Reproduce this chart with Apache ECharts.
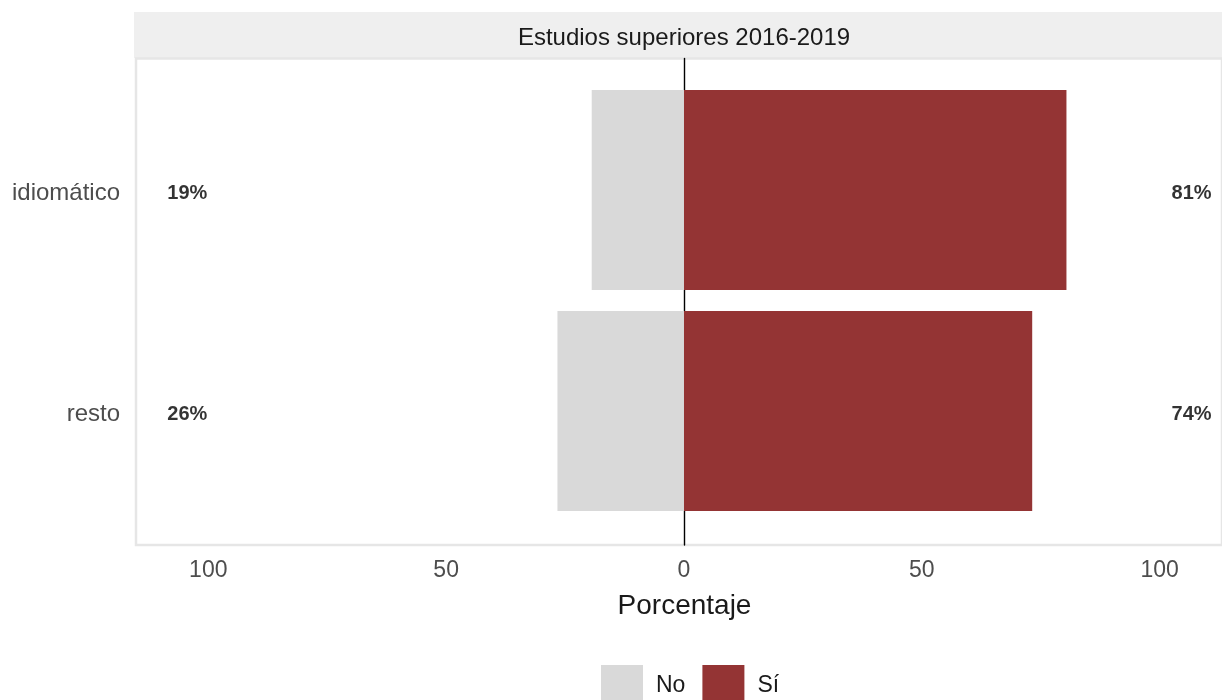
<!DOCTYPE html>
<html>
<head>
<meta charset="utf-8">
<script src="https://cdn.jsdelivr.net/npm/echarts@6/dist/echarts.min.js"></script>
<style>html,body{margin:0;padding:0;background:#fff}#c{width:1222px;height:700px}</style>
</head>
<body>
<div id="c"></div>
<script>
const categories = ['idiomático', 'resto'];
const noValues = [19.4, 26.6];
const siValues = [80.4, 73.2];
const noLabels = ['19%', '26%'];
const siLabels = ['81%', '74%'];
const tickValues = [-100, -50, 0, 50, 100];
const stripTitle = 'Estudios superiores 2016-2019';
const axisTitle = 'Porcentaje';
const seriesNames = ['No', 'Sí'];

const FONT = '"Liberation Sans", Arial, sans-serif';
const X_MIN = -115.2, X_MAX = 113.1;
const LEFT_LABEL_X = -104.4, RIGHT_LABEL_X = 106.7;

const chart = echarts.init(document.getElementById('c'), null, {renderer: 'canvas'});

const labelData = [];
categories.forEach((c, i) => {
  labelData.push({value: [LEFT_LABEL_X, c], text: noLabels[i]});
  labelData.push({value: [RIGHT_LABEL_X, c], text: siLabels[i]});
});

chart.setOption({
  animation: false,
  backgroundColor: '#ffffff',
  textStyle: {fontFamily: FONT},
  graphic: [
    {type: 'rect', shape: {x: 134, y: 12, width: 1090, height: 46}, style: {fill: '#efefef'}, z: -1},
    {type: 'text', x: 684, y: 38.5, style: {text: stripTitle, fill: '#1a1a1a', font: '24px ' + FONT, textAlign: 'center', textVerticalAlign: 'middle'}}
  ],
  legend: {
    data: seriesNames,
    left: 596, top: 660,
    itemWidth: 42, itemHeight: 41, itemGap: 17,
    icon: 'rect',
    textStyle: {color: '#1a1a1a', fontSize: 23, fontFamily: FONT, padding: [0, 0, 0, 8]}
  },
  grid: [
    {left: 136, right: -2, top: 58.5, height: 486.5, show: true, borderColor: '#e6e6e6', borderWidth: 2.5, backgroundColor: '#ffffff', containLabel: false},
    {left: 136, right: -2, top: 79.5, height: 442, containLabel: false}
  ],
  xAxis: [
    {
      gridIndex: 0, type: 'value', min: X_MIN, max: X_MAX,
      axisLine: {show: false}, axisTick: {show: false}, splitLine: {show: false},
      axisLabel: {customValues: tickValues, formatter: v => String(Math.abs(v)), color: '#4d4d4d', fontSize: 23, margin: 14, fontFamily: FONT},
      name: axisTitle, nameLocation: 'middle', nameGap: 47,
      nameTextStyle: {color: '#1a1a1a', fontSize: 28, fontFamily: FONT, verticalAlign: 'top', padding: [0, 0, 0, 11]}
    },
    {gridIndex: 1, type: 'value', min: X_MIN, max: X_MAX, show: false}
  ],
  yAxis: [
    {
      gridIndex: 0, type: 'value', min: 0, max: 1,
      axisLine: {show: true, onZero: true, lineStyle: {color: '#000000', width: 1.4}},
      axisTick: {show: false}, axisLabel: {show: false}, splitLine: {show: false}
    },
    {
      gridIndex: 1, type: 'category', data: categories, inverse: true,
      axisLine: {show: false}, axisTick: {show: false}, splitLine: {show: false},
      axisLabel: {color: '#4d4d4d', fontSize: 24, margin: 16, fontFamily: FONT, verticalAlign: 'top', lineHeight: 7}
    }
  ],
  series: [
    {
      name: seriesNames[0], type: 'bar', stack: 'a', xAxisIndex: 1, yAxisIndex: 1,
      barWidth: 200, itemStyle: {color: '#d9d9d9'},
      data: noValues.map(v => -v)
    },
    {
      name: seriesNames[1], type: 'bar', stack: 'a', xAxisIndex: 1, yAxisIndex: 1,
      barWidth: 200, itemStyle: {color: '#943434'},
      data: siValues
    },
    {
      type: 'scatter', xAxisIndex: 1, yAxisIndex: 1, symbolSize: 0, silent: true,
      data: labelData,
      label: {show: true, position: 'inside', formatter: p => p.data.text, color: '#000000', fontSize: 20, fontWeight: 'bold', fontFamily: FONT, verticalAlign: 'top', lineHeight: 7},
      labelLayout: {hideOverlap: false}
    }
  ]
});
</script>
</body>
</html>
